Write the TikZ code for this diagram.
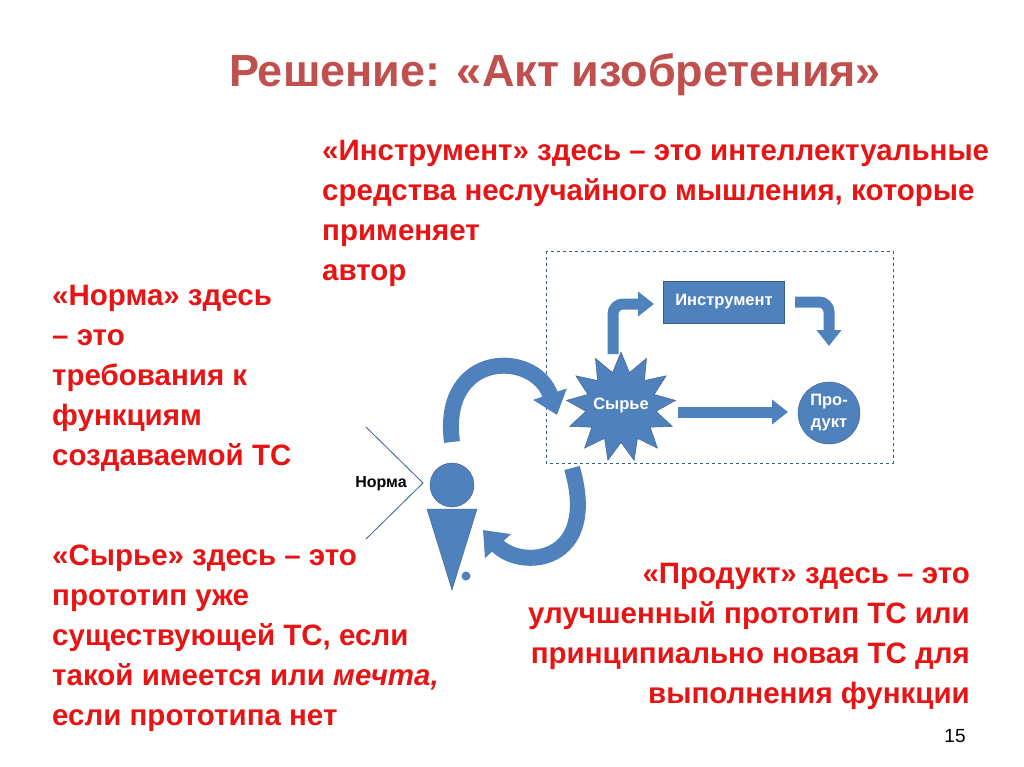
\documentclass[tikz,border=0pt]{standalone}
\usepackage{fontspec}
\setmainfont{Liberation Sans}
\usetikzlibrary{shapes.geometric,arrows.meta}
\definecolor{tred}{RGB}{230,20,20}
\definecolor{ttitle}{RGB}{192,80,77}
\definecolor{bfill}{RGB}{79,129,189}
\definecolor{bdark}{RGB}{56,93,138}
\tikzset{
 redtxt/.style={anchor=north west,inner sep=0,align=left,text=tred,font=\fontsize{29.5}{40}\selectfont\bfseries},
 bluearrow/.style={draw=bfill,line width=11pt,-{Triangle[width=24pt,length=16pt]}},
 bigarrow/.style={draw=bfill,line width=16pt,-{Triangle[width=34pt,length=22pt]}},
 wtxt/.style={text=white,font=\fontsize{16.5}{18}\selectfont\bfseries}
}
\begin{document}
\begin{tikzpicture}[x=1pt,y=-1pt]
\useasboundingbox (0,0) rectangle (1024,767);
\node (title) [text=ttitle,font=\fontsize{45}{48}\selectfont\bfseries] at (555,75) {Решение: «Акт изобретения»};
\node (t1) [redtxt] at (322,140) {«Инструмент» здесь – это интеллектуальные\\средства неслучайного мышления, которые\\применяет\\автор};
\node (t2) [redtxt] at (52,285) {«Норма» здесь\\– это\\требования к\\функциям\\создаваемой ТС};
\node (t3) [redtxt] at (52,545) {«Сырье» здесь – это\\прототип уже\\существующей ТС, если\\такой имеется или \textit{мечта,}\\если прототипа нет};
\node (t4) [redtxt,anchor=north east,align=right] at (970,563) {«Продукт» здесь – это\\улучшенный прототип ТС или\\принципиально новая ТС для\\выполнения функции};
\node (num) [font=\fontsize{19}{20}\selectfont] at (955,736) {15};
% dashed box
\draw[bdark,dashed,line width=0.8pt] (546,251) rectangle (893,463);
% nodes
\node (instr) [draw=bdark,fill=bfill,minimum width=121pt,minimum height=42pt,wtxt] at (724,302) {Инструмент};
\node (syr) [star,star points=13,star point ratio=1.55,minimum size=110pt,draw=bdark,fill=bfill,inner sep=0] at (621,407) {};
\node [wtxt] at (621,405) {Сырье};
\node (prod) [circle,draw=bdark,fill=bfill,minimum size=62pt,inner sep=0,wtxt,align=center,font=\fontsize{16.5}{22}\selectfont\bfseries] at (829,413) {Про-\\дукт};
% arrows inside
\draw[bluearrow] (678,412) -- (788,412);
\draw[bluearrow,rounded corners=10pt] (613,354) |- (654,304);
\draw[bluearrow,rounded corners=10pt] (795,302) -| (829,346);
% person
\node (head) [circle,fill=bfill,draw=bdark,minimum size=44pt,inner sep=0] at (452,485) {};
\draw[fill=bfill,draw=bdark] (427,509) -- (477,509) -- (452,590) -- cycle;
\node (dot) [circle,fill=bfill,minimum size=9pt,inner sep=0] at (466,576) {};
\coordinate (c1) at (366,427);
\coordinate (c2) at (423,483);
\coordinate (c3) at (366,539);
\draw[bdark,line width=0.8pt] (c1) -- (c2) -- (c3);
\node (norma) [font=\fontsize{16}{18}\selectfont\bfseries] at (381,484) {Норма};
% big curved arrows
\draw[bigarrow] (452,442) .. controls (440,350) and (535,350) .. (557,415);
\draw[bigarrow] (572,468) .. controls (600,565) and (520,570) .. (483,530);
\end{tikzpicture}
\end{document}
